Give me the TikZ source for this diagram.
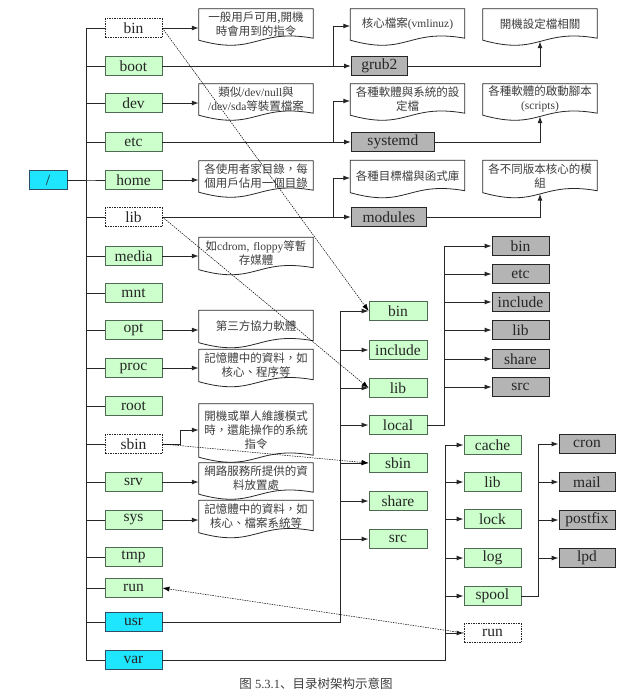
\documentclass[tikz,border=0pt]{standalone}
\usepackage{fontspec}
\setmainfont{Liberation Serif}
\newfontfamily\zh{Noto Sans CJK TC}
\newfontfamily\zhsc{Noto Sans CJK SC}
\usetikzlibrary{arrows.meta,calc}
\definecolor{dirgreen}{HTML}{CCFFCC}
\definecolor{dirgreenline}{HTML}{4F6A52}
\definecolor{dircyan}{HTML}{1FE6FF}
\definecolor{dircyanline}{HTML}{2F4D66}
\definecolor{dirgrey}{HTML}{B4B4B4}
\definecolor{linecol}{HTML}{262626}
\definecolor{doctext}{HTML}{3C3C3C}

% document shape: straight top, wavy bottom (text sits 2pt above the middle)
\newcommand{\docnode}[5]{%
  \node[doc, minimum height=#4pt] (#1) at ($(#2,#3)+(0,-2)$) {#5};
  \draw[docedge] ([yshift=1pt]#1.south west) -- ([yshift=-2pt]#1.north west)
    -- ([yshift=-2pt]#1.north east) -- ([yshift=3pt]#1.south east)
    .. controls ([yshift=13pt]#1.south) and ([yshift=-15pt]#1.south) .. cycle;
}

\begin{document}
\begin{tikzpicture}[x=1pt, y=-1pt,
    dirbox/.style={draw=dirgreenline, fill=dirgreen, line width=0.8pt,
                   minimum width=57pt, minimum height=19pt, inner sep=0pt,
                   font=\fontsize{15.5}{16}\selectfont, text=linecol},
    linkbox/.style={dirbox, draw=linecol, fill=white, dash pattern=on 1.5pt off 1pt},
    usrbox/.style={dirbox, draw=dircyanline, fill=dircyan},
    subbox/.style={dirbox, draw=linecol, fill=dirgrey},
    doc/.style={minimum width=114pt, text width=110pt, align=center, inner sep=0pt,
                font=\fontsize{11.5}{14}\selectfont, text=doctext},
    docedge/.style={draw=linecol, line width=0.8pt},
    tree/.style={draw=linecol, line width=1pt},
    arr/.style={-{Latex[length=7pt,width=5pt]}, draw=linecol, line width=1pt},
    linkarr/.style={-{Latex[length=7pt,width=5pt]}, draw=black, line width=0.5pt,
                    dash pattern=on 1.5pt off 1pt},
    caption/.style={font=\fontsize{12.5}{14}\selectfont, text=doctext}
  ]
  \useasboundingbox (0,0) rectangle (643,697);

  % root and first level
  \node[usrbox, minimum width=38pt] (top) at (48,180) {/};
  \foreach \n/\y/\s in {bin/28/linkbox, boot/66/dirbox, dev/103/dirbox, etc/142/dirbox,
      home/180/dirbox, lib/217/linkbox, media/256/dirbox, mnt/293/dirbox, opt/330/dirbox,
      proc/368/dirbox, root/406/dirbox, sbin/444/linkbox, srv/482/dirbox, sys/520/dirbox,
      tmp/557/dirbox, run/588/dirbox, usr/622/usrbox, var/660/usrbox}{
    \node[\s] (\n) at (133.5,\y) {\n};
    \draw[tree] (top.east) -- ++(19,0) |- (\n.west);
  }

  % notes on the left
  \docnode{bindoc}{256}{26}{34}{{\zh 一般用戶可用,開機}\\{\zh 時會用到的指令}}
  \docnode{devdoc}{256}{101}{34}{{\zh 類似}/dev/null{\zh 與}\\/dev/sda{\zh 等裝置檔案}}
  \docnode{homedoc}{256}{178}{34}{{\zh 各使用者家目錄，每}\\{\zh 個用戶佔用一個目錄}}
  \docnode{mediadoc}{256}{255}{35}{{\zh 如}cdrom, floppy{\zh 等暫}\\{\zh 存媒體}}
  \docnode{optdoc}{256}{328}{35}{{\zh 第三方協力軟體}}
  \docnode{procdoc}{256}{367}{35}{{\zh 記憶體中的資料，如}\\{\zh 核心、程序等}}
  \docnode{sbindoc}{256}{432}{56}{{\zh 開機或單人維護模式}\\{\zh 時，還能操作的系統}\\{\zh 指令}}
  \docnode{srvdoc}{256}{480}{34}{{\zh 網路服務所提供的資}\\{\zh 料放置處}}
  \docnode{sysdoc}{256}{518}{35}{{\zh 記憶體中的資料，如}\\{\zh 核心、檔案系統等}}

  \foreach \n in {bin, dev, home, media, opt, proc, srv, sys}
    \draw[arr] (\n.east) -- (\n doc.west |- \n.east);
  \draw[arr] (sbin.east) -- ++(18,0) |- (sbindoc.west);

  % boot, etc, lib
  \node[subbox, anchor=west, minimum width=56pt] (grub2) at (351,66) {grub2};
  \node[subbox, anchor=west, minimum width=83pt] (systemd) at (351,142) {systemd};
  \node[subbox, anchor=west, minimum width=75pt] (modules) at (351,217) {modules};

  \docnode{kerneldoc}{407.5}{26}{34}{{\zh 核心檔案}(vmlinuz)}
  \docnode{grubdoc}{540}{26}{34}{{\zh 開機設定檔相關}}
  \docnode{etcdoc}{407.5}{101}{34}{{\zh 各種軟體與系統的設}\\{\zh 定檔}}
  \docnode{systemddoc}{540}{101}{34}{{\zh 各種軟體的啟動腳本}\\(scripts)}
  \docnode{libdoc}{407.5}{178}{35}{{\zh 各種目標檔與函式庫}}
  \docnode{moddoc}{540}{178}{35}{{\zh 各不同版本核心的模}\\{\zh 組}}

  \draw[arr] (boot.east) -| ([xshift=-18pt]grub2.west) |- ([yshift=-2pt]kerneldoc.west);
  \draw[arr] (boot.east) -- (grub2.west);
  \draw[arr] (grub2.east) -| (grubdoc.south);
  \draw[arr] (etc.east) -| ([xshift=-18pt]systemd.west) |- ([yshift=-2pt]etcdoc.west);
  \draw[arr] (etc.east) -- (systemd.west);
  \draw[arr] (systemd.east) -| (systemddoc.south);
  \draw[arr] (lib.east) -| ([xshift=-18pt]modules.west) |- ([yshift=-2pt]libdoc.west);
  \draw[arr] (lib.east) -- (modules.west);
  \draw[arr] (modules.east) -| (moddoc.south);

  % /usr
  \foreach \n/\y in {bin/311, include/350, lib/388, local/425, sbin/463, share/501, src/539}{
    \node[dirbox, minimum width=58pt] (u\n) at (398,\y) {\n};
    \draw[arr] (usr.east) -| ([xshift=-28pt]u\n.west) -- (u\n.west);
  }
  % /usr/local
  \foreach \n/\y in {bin/246, etc/274, include/302, lib/330, share/359, src/387}{
    \node[subbox] (l\n) at (520.5,\y) {\n};
    \draw[arr] (ulocal.east) -| ([xshift=-47pt]l\n.west) -- (l\n.west);
  }
  % /var
  \foreach \n/\y/\s in {cache/445/dirbox, lib/482/dirbox, lock/519/dirbox, log/558/dirbox,
      spool/596/dirbox, run/633/linkbox}{
    \node[\s] (v\n) at (492.5,\y) {\n};
    \draw[arr] (var.east) -| ([xshift=-18pt]v\n.west) -- (v\n.west);
  }
  % /var/spool
  \foreach \n/\y in {cron/444, mail/482, postfix/520, lpd/558}{
    \node[subbox, minimum width=56pt] (s\n) at (587,\y) {\n};
    \draw[arr] (vspool.east) -| ([xshift=-20pt]s\n.west) -- (s\n.west);
  }

  % links
  \draw[linkarr] (bin.east) -- (ubin.west);
  \draw[linkarr] (lib.east) -- (ulib.west);
  \draw[linkarr] (sbin.east) -- (usbin.west);
  \draw[linkarr] (vrun.west) -- (run.east);

  \node[caption] (cap) at (316,684) {{\zhsc 图} 5.3.1{\zhsc 、目录树架构示意图}};
\end{tikzpicture}
\end{document}
